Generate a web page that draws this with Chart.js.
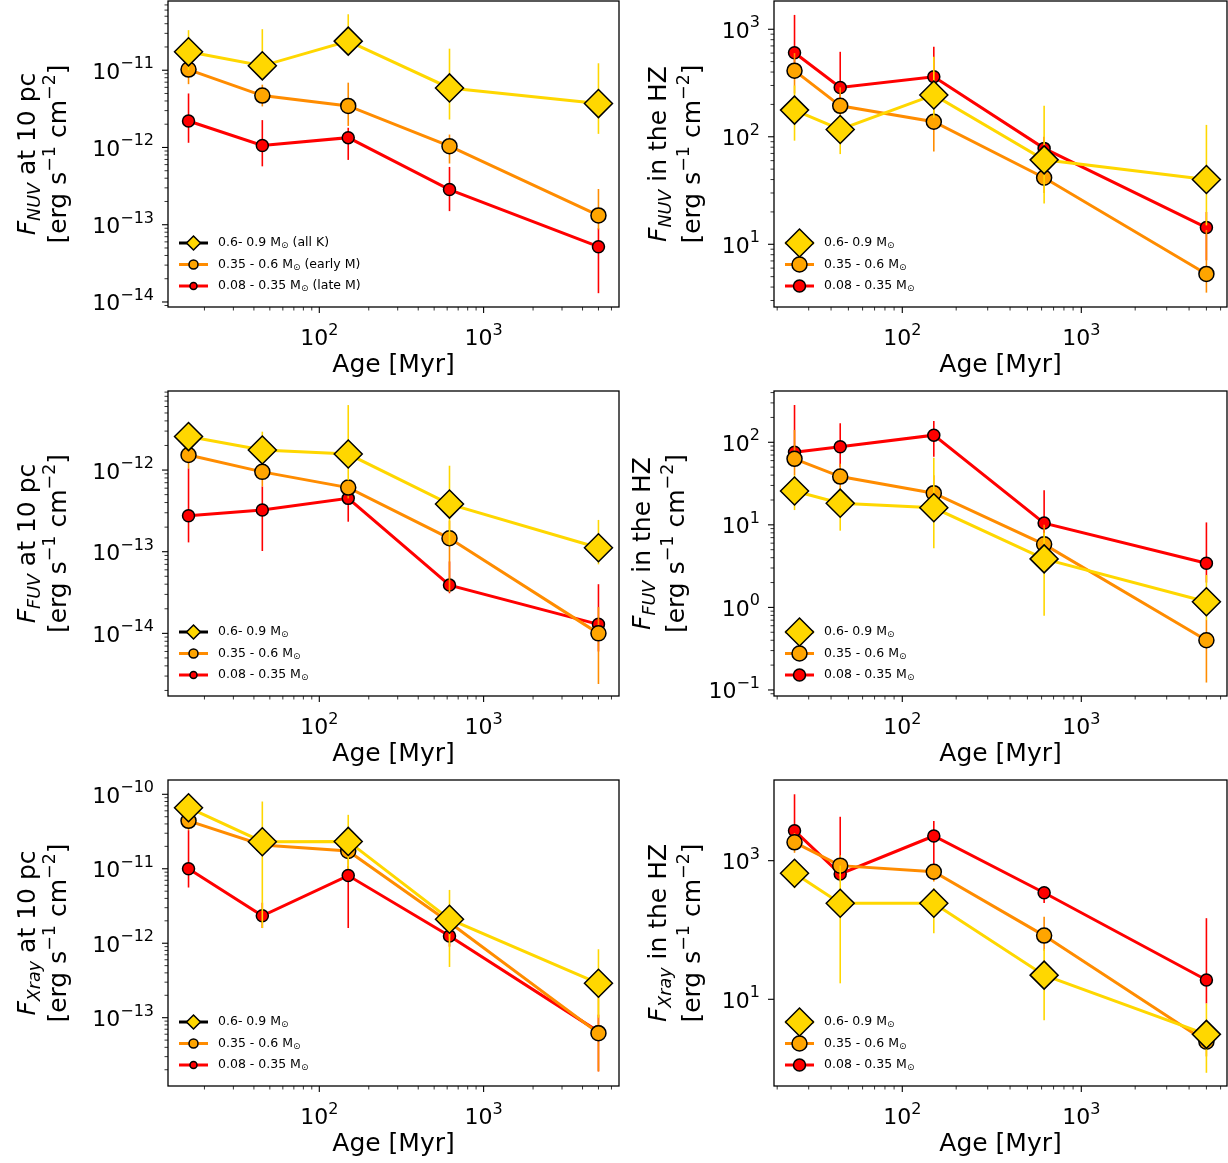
<!DOCTYPE html>
<html>
<head>
<meta charset="utf-8">
<script src="https://cdn.jsdelivr.net/npm/chart.js@4.4.1/dist/chart.umd.min.js"></script>
<style>
  body { margin: 0; background: #fff; }
  #page { position: relative; width: 1228px; height: 1163px; overflow: hidden; background: #fff; }
  canvas { position: absolute; }
</style>
</head>
<body>
<div id="page">
  <canvas id="c1" width="620" height="380" style="left:0;top:0"></canvas>
  <canvas id="c2" width="608" height="380" style="left:620px;top:0"></canvas>
  <canvas id="c3" width="620" height="390" style="left:0;top:380px"></canvas>
  <canvas id="c4" width="608" height="390" style="left:620px;top:380px"></canvas>
  <canvas id="c5" width="620" height="393" style="left:0;top:770px"></canvas>
  <canvas id="c6" width="608" height="393" style="left:620px;top:770px"></canvas>
</div>
<script>
const FONT = '"DejaVu Sans", sans-serif';

// ages [Myr]
const agesLeft = [16, 45, 150, 620, 5000];
const agesRight = [25, 45, 150, 620, 5000];

const labelsTop = ['0.6- 0.9 M⊙ (all K)', '0.35 - 0.6 M⊙ (early M)', '0.08 - 0.35 M⊙ (late M)'];
const labelsMass = ['0.6- 0.9 M⊙', '0.35 - 0.6 M⊙', '0.08 - 0.35 M⊙'];

// NUV at 10 pc
const nuv10K = [1.73e-11, 1.14e-11, 2.38e-11, 5.9e-12, 3.7e-12];
const nuv10KLo = [1.0e-11, 7.6e-12, 1.6e-11, 2.3e-12, 1.5e-12];
const nuv10KHi = [3.3e-11, 3.4e-11, 5.3e-11, 1.9e-11, 1.23e-11];
const nuv10EM = [1.02e-11, 4.7e-12, 3.45e-12, 1.04e-12, 1.32e-13];
const nuv10EMLo = [6.6e-12, 3.4e-12, 1.9e-12, 6.2e-13, 8.7e-14];
const nuv10EMHi = [1.4e-11, 6.5e-12, 6.9e-12, 1.47e-12, 2.9e-13];
const nuv10LM = [2.2e-12, 1.06e-12, 1.34e-12, 2.85e-13, 5.2e-14];
const nuv10LMLo = [1.15e-12, 5.7e-13, 6.9e-13, 1.5e-13, 1.3e-14];
const nuv10LMHi = [5.0e-12, 2.26e-12, 1.8e-12, 5.6e-13, 9e-14];

// NUV in the HZ
const nuvHzK = [177, 117, 245, 61, 40];
const nuvHzKLo = [92, 69, 150, 24, 15];
const nuvHzKHi = [300, 160, 556, 194, 129];
const nuvHzEM = [412, 194, 138, 41.6, 5.3];
const nuvHzEMLo = [253, 150, 73, 30, 3.55];
const nuvHzEMHi = [600, 288, 178, 60, 13.6];
const nuvHzLM = [605, 287, 362, 78, 14.3];
const nuvHzLMLo = [420, 200, 250, 60, 7.1];
const nuvHzLMHi = [1360, 617, 689, 100, 20];

// FUV at 10 pc
const fuv10K = [2.57e-12, 1.76e-12, 1.57e-12, 3.83e-13, 1.12e-13];
const fuv10KLo = [1.8e-12, 1.2e-12, 7.5e-13, 1.2e-13, 7.0e-14];
const fuv10KHi = [3.3e-12, 2.95e-12, 6.25e-12, 1.13e-12, 2.45e-13];
const fuv10EM = [1.53e-12, 9.5e-13, 6.1e-13, 1.46e-13, 1.0e-14];
const fuv10EMLo = [1.05e-12, 6.3e-13, 4.5e-13, 3.2e-14, 2.4e-15];
const fuv10EMHi = [2.2e-12, 1.4e-12, 7.5e-13, 2.4e-13, 2.1e-14];
const fuv10LM = [2.76e-13, 3.24e-13, 4.5e-13, 3.9e-14, 1.29e-14];
const fuv10LMLo = [1.3e-13, 1.02e-13, 2.33e-13, 3.1e-14, 6e-15];
const fuv10LMHi = [1.05e-12, 6.3e-13, 5.5e-13, 7.6e-14, 4.0e-14];

// FUV in the HZ
const fuvHzK = [25.7, 18.3, 16.1, 3.87, 1.17];
const fuvHzKLo = [15.1, 8.5, 5.2, 0.79, 0.7];
const fuvHzKHi = [40, 28, 65, 8, 2.47];
const fuvHzEM = [63, 38.4, 24.2, 5.8, 0.40];
const fuvHzEMLo = [40, 25, 15, 3, 0.123];
const fuvHzEMHi = [141, 55, 40, 10, 0.71];
const fuvHzLM = [75.7, 88.5, 122, 10.5, 3.43];
const fuvHzLMLo = [50, 50, 67, 5, 2];
const fuvHzLMHi = [283, 170, 181, 26.3, 10.7];

// X-ray at 10 pc
const xr10K = [6.6e-11, 2.31e-11, 2.33e-11, 2.1e-12, 2.9e-13];
const xr10KLo = [5.0e-11, 1.6e-12, 1.0e-11, 4.8e-13, 1.0e-13];
const xr10KHi = [8.5e-11, 8.0e-11, 5.3e-11, 5.2e-12, 8.3e-13];
const xr10EM = [4.4e-11, 2.09e-11, 1.73e-11, 1.9e-12, 6.2e-14];
const xr10EMLo = [3.3e-11, 1.5e-11, 1.1e-11, 1.2e-12, 1.9e-14];
const xr10EMHi = [5.5e-11, 3.0e-11, 2.5e-11, 3.0e-12, 2.0e-13];
const xr10LM = [1.0e-11, 2.34e-12, 8.1e-12, 1.25e-12, 6.5e-14];
const xr10LMLo = [5.6e-12, 1.6e-12, 1.6e-12, 9e-13, 1.9e-14];
const xr10LMHi = [3.3e-11, 3.5e-12, 1.1e-11, 1.6e-12, 1.1e-13];

// X-ray in the HZ
const xrHzK = [658, 243, 243, 22.3, 3.12];
const xrHzKLo = [400, 17, 90, 5.0, 0.87];
const xrHzKHi = [1000, 850, 400, 53, 8.7];
const xrHzEM = [1840, 848, 692, 83, 2.44];
const xrHzEMLo = [1300, 600, 500, 50, 1.5];
const xrHzEMHi = [2500, 1200, 900, 155, 4];
const xrHzLM = [2710, 643, 2270, 345, 19];
const xrHzLMLo = [2000, 500, 820, 245, 8.7];
const xrHzLMHi = [9080, 4300, 3740, 420, 148];

const rm = s => s + 'px ' + FONT;
const it = s => 'italic ' + s + 'px ' + FONT;

function textWidth(ctx, parts) {
    let w = 0;
    parts.forEach(p => { ctx.font = p.font; w += ctx.measureText(p.t).width; });
    return w;
}

function drawParts(ctx, parts, x, y) {
    parts.forEach(p => {
        ctx.font = p.font;
        ctx.fillText(p.t, x, y + (p.dy || 0));
        x += ctx.measureText(p.t).width;
    });
}

function powParts(e) {
    return [
        { t: '10', font: rm(22) },
        { t: (e < 0 ? '\u2212' : '') + Math.abs(e), font: rm(16), dy: -10.5 }
    ];
}

function drawMarker(ctx, style, x, y, r, fill) {
    ctx.beginPath();
    if (style === 'rectRot') {
        ctx.moveTo(x - r, y);
        ctx.lineTo(x, y - r);
        ctx.lineTo(x + r, y);
        ctx.lineTo(x, y + r);
        ctx.closePath();
    } else {
        ctx.arc(x, y, r, 0, Math.PI * 2);
    }
    ctx.fillStyle = fill;
    ctx.fill();
    ctx.lineWidth = 1.5;
    ctx.strokeStyle = '#000';
    ctx.stroke();
}

const errorBars = {
    id: 'errorBars',
    beforeDatasetDraw(chart, args) {
        const ds = chart.data.datasets[args.index];
        const { ctx, chartArea: a, scales: { x, y } } = chart;
        ctx.save();
        ctx.beginPath();
        ctx.rect(a.left, a.top, a.right - a.left, a.bottom - a.top);
        ctx.clip();
        ctx.strokeStyle = ds.borderColor;
        ctx.lineWidth = 1.6;
        ds.data.forEach((p, i) => {
            const px = x.getPixelForValue(p.x);
            ctx.beginPath();
            ctx.moveTo(px, y.getPixelForValue(ds.errLo[i]));
            ctx.lineTo(px, y.getPixelForValue(ds.errHi[i]));
            ctx.stroke();
        });
        ctx.restore();
    }
};

const decor = {
    id: 'decor',
    afterDraw(chart, args, opts) {
        const { ctx, chartArea: a, scales: { x, y } } = chart;
        ctx.save();
        ctx.fillStyle = '#000';
        ctx.strokeStyle = '#000';

        // x ticks
        ctx.textBaseline = 'alphabetic';
        for (let e = Math.floor(Math.log10(x.min)); e <= Math.ceil(Math.log10(x.max)); e++) {
            for (let m = 1; m < 10; m++) {
                const v = m * Math.pow(10, e);
                if (v < x.min || v > x.max) continue;
                const px = x.getPixelForValue(v);
                ctx.lineWidth = m === 1 ? 1.1 : 0.8;
                ctx.beginPath();
                ctx.moveTo(px, a.bottom);
                ctx.lineTo(px, a.bottom + (m === 1 ? 6 : 3.5));
                ctx.stroke();
                if (m === 1) {
                    const parts = powParts(e);
                    const w = textWidth(ctx, parts);
                    ctx.fillStyle = '#000';
                    drawParts(ctx, parts, px - w / 2, a.bottom + 38);
                }
            }
        }

        // y ticks
        for (let e = Math.floor(Math.log10(y.min)); e <= Math.ceil(Math.log10(y.max)); e++) {
            for (let m = 1; m < 10; m++) {
                if (m > 1 && !opts.yMinor) continue;
                const v = m * Math.pow(10, e);
                if (v < y.min || v > y.max) continue;
                if (m === 1 && opts.yStep === 2 && Math.abs(e) % 2 !== 1) continue;
                const py = y.getPixelForValue(v);
                ctx.lineWidth = m === 1 ? 1.1 : 0.8;
                ctx.beginPath();
                ctx.moveTo(a.left, py);
                ctx.lineTo(a.left - (m === 1 ? 6 : 3.5), py);
                ctx.stroke();
                if (m === 1) {
                    const parts = powParts(e);
                    const w = textWidth(ctx, parts);
                    drawParts(ctx, parts, a.left - 14 - w, py + 8.5);
                }
            }
        }

        // frame
        ctx.lineWidth = 1.3;
        ctx.strokeRect(a.left, a.top, a.right - a.left, a.bottom - a.top);

        // x title
        ctx.font = rm(25);
        ctx.textAlign = 'center';
        ctx.fillText('Age [Myr]', (a.left + a.right) / 2, a.bottom + 65);
        ctx.textAlign = 'left';

        // y title, two lines, rotated
        const yc = (a.top + a.bottom) / 2;
        const line1 = [
            { t: 'F', font: it(25) },
            { t: opts.band, font: it(17.5), dy: 5 },
            { t: opts.where, font: rm(25) }
        ];
        const line2 = [
            { t: '[erg s', font: rm(25) },
            { t: '\u22121', font: rm(17.5), dy: -11 },
            { t: ' cm', font: rm(25) },
            { t: '\u22122', font: rm(17.5), dy: -11 },
            { t: ']', font: rm(25) }
        ];
        [[line1, opts.titleX[0]], [line2, opts.titleX[1]]].forEach(([parts, bx]) => {
            ctx.save();
            ctx.translate(bx, yc);
            ctx.rotate(-Math.PI / 2);
            drawParts(ctx, parts, -textWidth(ctx, parts) / 2, 0);
            ctx.restore();
        });

        // legend
        const rowDy = [-64, -42.5, -21];
        ctx.textBaseline = 'middle';
        chart.data.datasets.forEach((ds, i) => {
            const ry = a.bottom + rowDy[i];
            ctx.strokeStyle = i === 0 ? opts.firstHandle : ds.borderColor;
            ctx.lineWidth = 3;
            ctx.beginPath();
            ctx.moveTo(a.left + 11, ry);
            ctx.lineTo(a.left + 40, ry);
            ctx.stroke();
            drawMarker(ctx, ds.pointStyle, a.left + 25.5, ry, opts.legendR[i], ds.pointBackgroundColor);
            const [pre, post] = ds.label.split('⊙');
            ctx.fillStyle = '#000';
            drawParts(ctx, [
                { t: pre, font: rm(12.5) },
                { t: '⊙', font: rm(9), dy: 3 },
                { t: post, font: rm(12.5) }
            ], a.left + 50, ry);
        });
        ctx.restore();
    }
};

function series(ages, vals, lo, hi, label, kind) {
    const styles = [
        { color: '#FFD700', fill: '#FFD700', point: 'rectRot', r: 14 },
        { color: '#FF8C00', fill: '#FFA500', point: 'circle', r: 7.5 },
        { color: '#FF0000', fill: '#FF0000', point: 'circle', r: 6 }
    ];
    const s = styles[kind];
    return {
        label: label,
        data: ages.map((a, i) => ({ x: a, y: vals[i] })),
        errLo: lo,
        errHi: hi,
        borderColor: s.color,
        borderWidth: 3,
        tension: 0,
        pointStyle: s.point,
        pointRadius: s.r,
        pointBackgroundColor: s.fill,
        pointBorderColor: '#000',
        pointBorderWidth: 1.5
    };
}

function makePanel(p) {
    const ages = p.left ? agesLeft : agesRight;
    const datasets = p.data.map((d, k) => series(ages, d[0], d[1], d[2], p.labels[k], k));
    new Chart(document.getElementById(p.id), {
        type: 'line',
        data: { datasets: datasets },
        options: {
            responsive: false,
            animation: false,
            events: [],
            layout: { autoPadding: false, padding: { top: p.padTop, right: 1, left: 0, bottom: 0 } },
            plugins: {
                legend: { display: false },
                tooltip: { enabled: false },
                decor: {
                    band: p.band,
                    where: p.where,
                    titleX: p.titleX,
                    yMinor: p.yStep !== 2,
                    yStep: p.yStep || 1,
                    firstHandle: p.left ? '#000' : '#FFD700',
                    legendR: p.left ? [7, 4.5, 3.5] : [14, 7.5, 6]
                }
            },
            scales: {
                x: {
                    type: 'logarithmic',
                    min: p.left ? 12.0 : 19.2,
                    max: p.left ? 6668 : 6516,
                    ticks: { display: false },
                    grid: { display: false },
                    border: { display: false },
                    afterFit: s => { s.height = p.xAxisH; }
                },
                y: {
                    type: 'logarithmic',
                    min: p.yMin,
                    max: p.yMax,
                    ticks: { display: false },
                    grid: { display: false },
                    border: { display: false },
                    afterFit: s => { s.width = p.left ? 168 : 154; }
                }
            }
        },
        plugins: [errorBars, decor]
    });
}

makePanel({ id: 'c1', left: true, padTop: 1, xAxisH: 73, yMin: 8.61e-15, yMax: 7.87e-11,
    band: 'NUV', where: ' at 10 pc', titleX: [35, 66], labels: labelsTop,
    data: [[nuv10K, nuv10KLo, nuv10KHi], [nuv10EM, nuv10EMLo, nuv10EMHi], [nuv10LM, nuv10LMLo, nuv10LMHi]] });
makePanel({ id: 'c2', left: false, padTop: 1, xAxisH: 73, yMin: 2.61, yMax: 1832,
    band: 'NUV', where: ' in the HZ', titleX: [46, 80], labels: labelsMass,
    data: [[nuvHzK, nuvHzKLo, nuvHzKHi], [nuvHzEM, nuvHzEMLo, nuvHzEMHi], [nuvHzLM, nuvHzLMLo, nuvHzLMHi]] });
makePanel({ id: 'c3', left: true, padTop: 11, xAxisH: 74, yMin: 1.71e-15, yMax: 9.29e-12,
    band: 'FUV', where: ' at 10 pc', titleX: [35, 66], labels: labelsMass,
    data: [[fuv10K, fuv10KLo, fuv10KHi], [fuv10EM, fuv10EMLo, fuv10EMHi], [fuv10LM, fuv10LMLo, fuv10LMHi]] });
makePanel({ id: 'c4', left: false, padTop: 11, xAxisH: 74, yMin: 0.0845, yMax: 418,
    band: 'FUV', where: ' in the HZ', titleX: [30, 64], labels: labelsMass,
    data: [[fuvHzK, fuvHzKLo, fuvHzKHi], [fuvHzEM, fuvHzEMLo, fuvHzEMHi], [fuvHzLM, fuvHzLMLo, fuvHzLMHi]] });
makePanel({ id: 'c5', left: true, padTop: 10, xAxisH: 77, yMin: 1.21e-14, yMax: 1.556e-10,
    band: 'Xray', where: ' at 10 pc', titleX: [35, 66], labels: labelsMass,
    data: [[xr10K, xr10KLo, xr10KHi], [xr10EM, xr10EMLo, xr10EMHi], [xr10LM, xr10LMLo, xr10LMHi]] });
makePanel({ id: 'c6', left: false, padTop: 10, xAxisH: 77, yMin: 0.561, yMax: 14590, yStep: 2,
    band: 'Xray', where: ' in the HZ', titleX: [46, 80], labels: labelsMass,
    data: [[xrHzK, xrHzKLo, xrHzKHi], [xrHzEM, xrHzEMLo, xrHzEMHi], [xrHzLM, xrHzLMLo, xrHzLMHi]] });
</script>
</body>
</html>
